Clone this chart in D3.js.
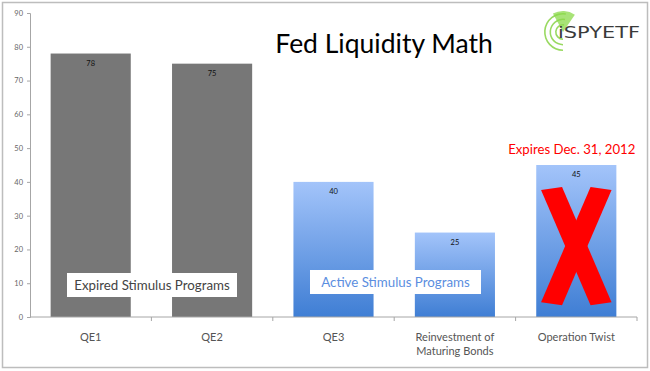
<!DOCTYPE html>
<html><head><meta charset="utf-8">
<script src="https://cdn.jsdelivr.net/npm/d3@7"></script>
<style>body{margin:0;background:#fff}svg{display:block}</style>
</head><body>
<svg id="c" width="650" height="371"></svg>
<script>
const categories = ["QE1", "QE2", "QE3", "Reinvestment of\nMaturing Bonds", "Operation Twist"];
const values = [78, 75, 40, 25, 45];
const groups = ["expired", "expired", "active", "active", "active"];
const yTicks = [0, 10, 20, 30, 40, 50, 60, 70, 80, 90];
const title = "Fed Liquidity Math";

const svg = d3.select("#c");
const font = "Lato, 'Open Sans', sans-serif";
svg.append("rect").attr("x", 2.5).attr("y", 2.5).attr("width", 645).attr("height", 365)
  .attr("fill", "#fff").attr("stroke", "#bdbdbd").attr("stroke-width", 1.5);

const x = d3.scaleBand().domain(categories).range([30, 637]).paddingInner(0.34).paddingOuter(0.17);
const y = d3.scaleLinear().domain([0, 90]).range([317, 13]);

const defs = svg.append("defs");
const g = defs.append("linearGradient").attr("id", "blue").attr("x1", 0).attr("y1", 0).attr("x2", 0).attr("y2", 1);
g.append("stop").attr("offset", "0%").attr("stop-color", "#a3c4fa");
g.append("stop").attr("offset", "100%").attr("stop-color", "#3f7ed4");

// y axis
const ya = svg.append("g").attr("transform", "translate(30,0)")
  .call(d3.axisLeft(y).tickValues(yTicks).tickSize(3).tickPadding(4));
ya.select(".domain").attr("stroke", "#a6a6a6");
ya.selectAll(".tick line").attr("stroke", "#a6a6a6");
ya.selectAll("text").attr("font-family", font).attr("font-size", 7.5).attr("fill", "#666");

// bars
svg.selectAll("rect.bar").data(categories).join("rect").attr("class", "bar")
  .attr("x", d => x(d)).attr("width", x.bandwidth())
  .attr("y", (d, i) => y(values[i])).attr("height", (d, i) => y(0) - y(values[i]))
  .attr("fill", (d, i) => groups[i] === "expired" ? "#777777" : "url(#blue)");

svg.selectAll("text.val").data(categories).join("text").attr("class", "val")
  .attr("x", d => x(d) + x.bandwidth() / 2).attr("y", (d, i) => y(values[i]) + 12)
  .attr("text-anchor", "middle").attr("font-family", font).attr("font-size", 7.5).attr("fill", "#111")
  .text((d, i) => values[i]);

// x axis
const xa = svg.append("g");
xa.append("line").attr("x1", 30).attr("x2", 637).attr("y1", y(0)).attr("y2", y(0)).attr("stroke", "#a6a6a6");
const bounds = categories.map((d, i) => 30 + (i + 1) * (607 / categories.length));
xa.selectAll("line.t").data(bounds).join("line").attr("class", "t")
  .attr("x1", d => d).attr("x2", d => d).attr("y1", y(0)).attr("y2", y(0) + 4).attr("stroke", "#a6a6a6");
categories.forEach(c => {
  const lines = c.split("\n");
  const t = svg.append("text").attr("x", x(c) + x.bandwidth() / 2).attr("y", 341)
    .attr("text-anchor", "middle").attr("font-family", font).attr("font-size", 11).attr("fill", "#555");
  lines.forEach((l, j) => t.append("tspan").attr("x", x(c) + x.bandwidth() / 2).attr("dy", j ? 14 : 0).text(l));
});

// title
svg.append("text").attr("x", 384).attr("y", 53).attr("text-anchor", "middle")
  .attr("font-family", font).attr("font-size", 26.5).attr("fill", "#000").text(title);

// group labels
function boxLabel(x0, y0, w, h, txt, color) {
  svg.append("rect").attr("x", x0).attr("y", y0).attr("width", w).attr("height", h).attr("fill", "#fff");
  svg.append("text").attr("x", x0 + w / 2).attr("y", y0 + h / 2 + 4.5).attr("text-anchor", "middle")
    .attr("font-family", font).attr("font-size", 13.3).attr("fill", color).text(txt);
}
boxLabel(67, 273, 170, 24, "Expired Stimulus Programs", "#444");
boxLabel(310, 270, 171, 24, "Active Stimulus Programs", "#5b8ee0");

// Expires annotation
const ot = categories[4];
const cx = x(ot) + x.bandwidth() / 2;
svg.append("text").attr("x", cx - 4.5).attr("y", 154).attr("text-anchor", "middle")
  .attr("font-family", font).attr("font-size", 13.2).attr("fill", "#ff0000").text("Expires Dec. 31, 2012");

// red X
const bw = x.bandwidth();
const xl = x(ot) + bw * 0.06, xr = x(ot) + bw * 0.94;
const yt = y(38.5), yb = y(3.5), arm = 21;
const xg = svg.append("g").attr("fill", "#ff0000");
xg.append("polygon").attr("points", [[xl, yt + 3], [xl + arm, yt], [xr, yb - 3], [xr - arm, yb]].map(p => p.join(",")).join(" "));
xg.append("polygon").attr("points", [[xr - arm, yt], [xr, yt + 3], [xl + arm, yb], [xl, yb - 3]].map(p => p.join(",")).join(" "));

// logo
const lg = svg.append("g");
const lc = [563, 32];
[8, 13.5, 19].forEach((r, i) => {
  lg.append("path").attr("transform", `translate(${lc[0]},${lc[1]})`)
    .attr("d", d3.arc().innerRadius(r - 1.6).outerRadius(r)({startAngle: Math.PI * 1.0, endAngle: Math.PI * 2.05}))
    .attr("fill", "#7fcf3a").attr("opacity", 0.8);
});
lg.append("path").attr("transform", `translate(${lc[0]},${lc[1]})`)
  .attr("d", d3.arc().innerRadius(0).outerRadius(21)({startAngle: -0.5, endAngle: 0.6}))
  .attr("fill", "#8bd94a").attr("opacity", 0.75);
lg.append("text").attr("x", 558).attr("y", 38).attr("font-family", "'DejaVu Sans', sans-serif")
  .attr("font-size", 15).attr("fill", "#3a3a3a").attr("textLength", 82).attr("lengthAdjust", "spacingAndGlyphs").text("iSPYETF");
</script>
</body></html>
